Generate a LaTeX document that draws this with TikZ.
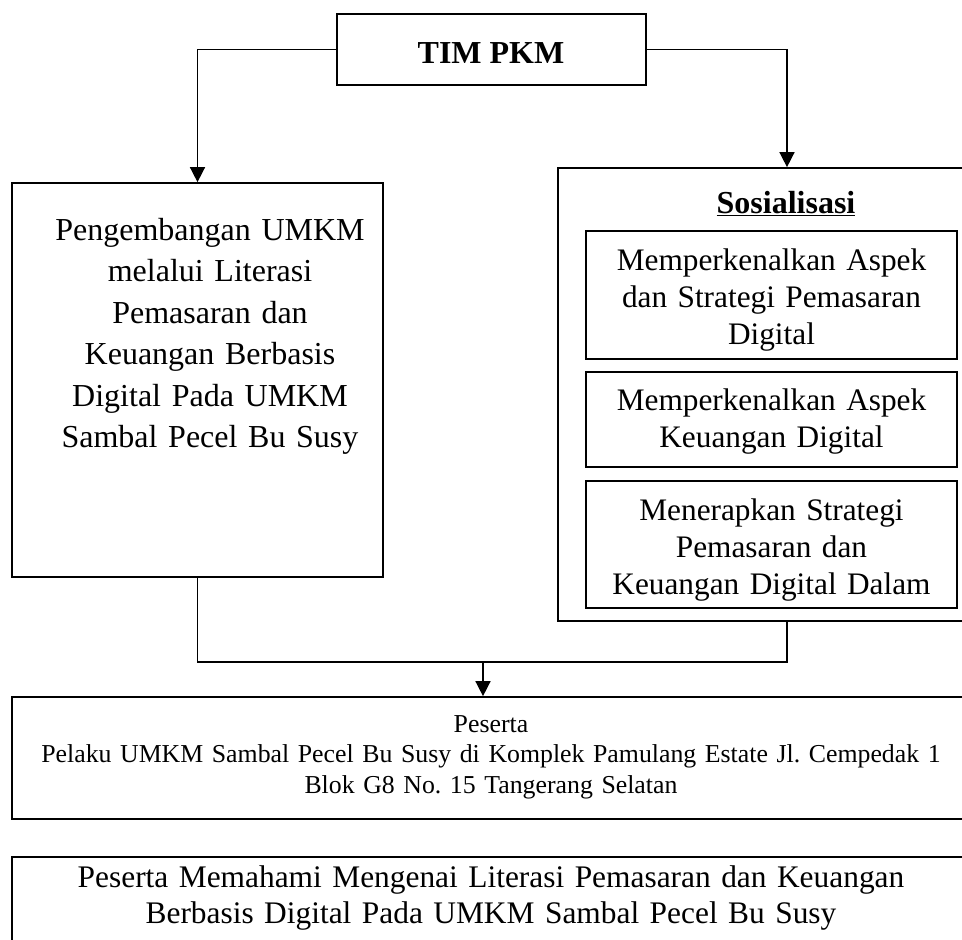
\documentclass[tikz,border=0pt]{standalone}
\usepackage{fontspec}
\setmainfont{Liberation Serif}
\frenchspacing
\usetikzlibrary{arrows.meta, positioning}
\tikzstyle{box} = [draw, line width=1.7pt, inner sep=0pt]
\tikzstyle{txt} = [inner sep=0pt, anchor=base, align=center]
\tikzstyle{bigtxt} = [txt, text width=400pt, font=\fontsize{32}{41.5}\selectfont]
\tikzstyle{subtxt} = [txt, text width=400pt, font=\fontsize{31.3}{37}\selectfont]
\tikzstyle{smalltxt} = [txt, text width=950pt, font=\fontsize{25.8}{30.5}\selectfont]
\tikzstyle{line} = [draw, line width=1.5pt]
\tikzstyle{arr} = [draw, line width=1.5pt, -{Triangle[width=15pt,length=15pt]}]

\begin{document}
\begin{tikzpicture}[x=1pt, y=-1pt]
			\useasboundingbox (0,0) rectangle (962,940);
			\clip (0,0) rectangle (962,940);

			% boxes
			\node [box, minimum width=309pt, minimum height=71pt] (tim) at (491.5, 49.5) {};
			\node [box, minimum width=371pt, minimum height=394pt] (lbox) at (197.5, 380) {};
			\node [box, minimum width=458pt, minimum height=453pt] (rbox) at (787, 394.5) {};
			\node [box, minimum width=371pt, minimum height=128pt] (sub1) at (771.5, 295) {};
			\node [box, minimum width=371pt, minimum height=95pt] (sub2) at (771.5, 419.5) {};
			\node [box, minimum width=371pt, minimum height=127pt] (sub3) at (771.5, 544.5) {};
			\node [box, minimum width=958pt, minimum height=122pt] (peserta) at (491, 758) {};
			\node [box, minimum width=958pt, minimum height=108pt] (hasil) at (491, 911) {};

			% texts
			\node [txt, font=\bfseries\fontsize{32}{38}\selectfont] (timtxt) at (491, 63) {TIM PKM};
			\node [bigtxt] (ltxt) at (210, 240) {Pengembangan UMKM\\ melalui Literasi\\ Pemasaran dan\\ Keuangan Berbasis\\ Digital Pada UMKM\\ Sambal Pecel Bu Susy};
			\node [txt, font=\bfseries\fontsize{32}{38}\selectfont] (sostxt) at (786, 213) {\underline{Sosialisasi}};
			\node [subtxt] (sub1txt) at (771.5, 270) {Memperkenalkan Aspek\\ dan Strategi Pemasaran\\ Digital};
			\node [subtxt] (sub2txt) at (771.5, 410) {Memperkenalkan Aspek\\ Keuangan Digital};
			\node [subtxt] (sub3txt) at (771.5, 520) {Menerapkan Strategi\\ Pemasaran dan\\ Keuangan Digital Dalam};
			\node [smalltxt] (pestxt) at (491, 732) {Peserta\\ Pelaku UMKM Sambal Pecel Bu Susy di Komplek Pamulang Estate Jl. Cempedak 1\\ Blok G8 No. 15 Tangerang Selatan};
			\node [txt, text width=950pt, font=\fontsize{31.4}{36}\selectfont] (hasiltxt) at (491, 887) {Peserta Memahami Mengenai Literasi Pemasaran dan Keuangan\\ Berbasis Digital Pada UMKM Sambal Pecel Bu Susy};

			% connectors
			\coordinate (join) at (483, 662);
			\path [arr] (tim.west) -| (lbox.north);
			\path [arr] (tim.east) -| (rbox.north);
			\path [line] (lbox.south) |- (join) -| (rbox.south);
			\path [arr] (join) -- (join |- peserta.north);
		\end{tikzpicture}
\end{document}
